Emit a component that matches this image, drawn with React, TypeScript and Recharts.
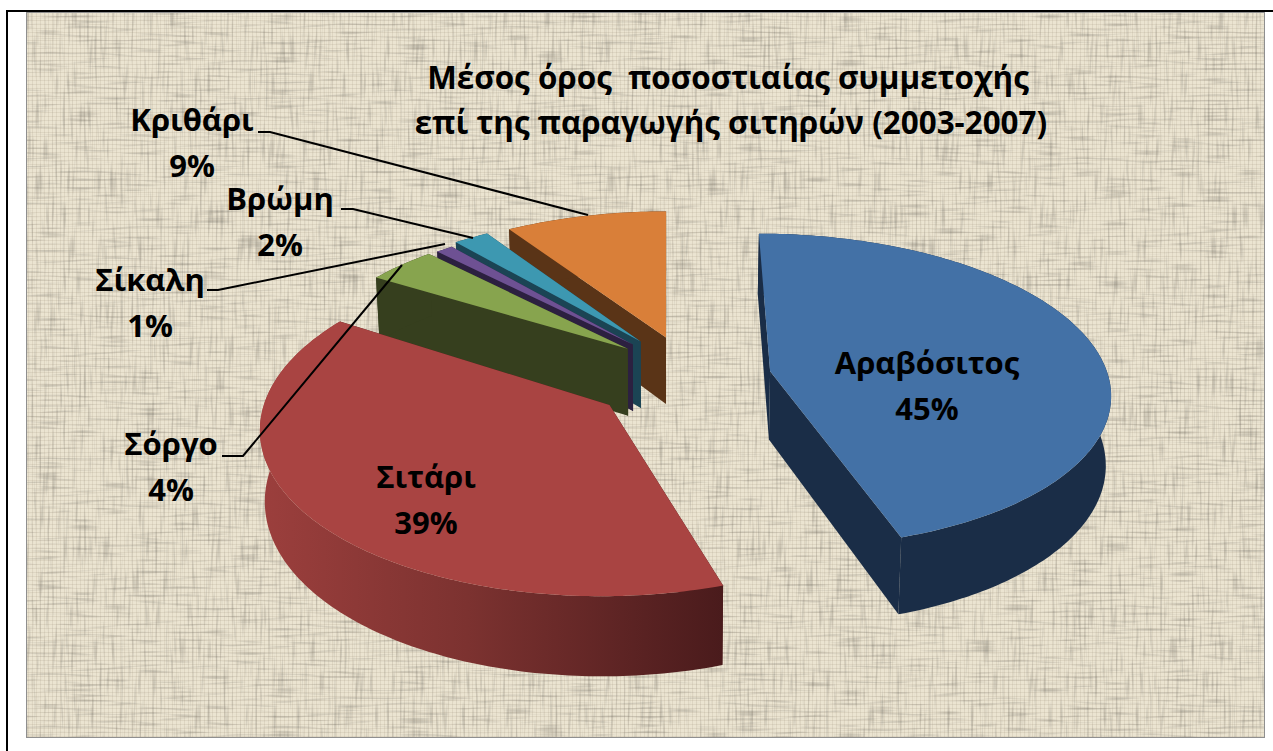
import React from "react";
import { Pie, PieChart } from "recharts";

const categories = ["Αραβόσιτος", "Σιτάρι", "Σόργο", "Σίκαλη", "Βρώμη", "Κριθάρι"];
const shares = [45, 39, 4, 1, 2, 9];
const topColors = ["#4371a6", "#a94442", "#87a44e", "#6e5193", "#3d98b1", "#d97f39"];
const wallColors = ["#1a2d47", "url(#redWall)", "#363f1e", "#2c2040", "#1b4454", "#5a3417"];

// slices are drawn back to front, so the table runs anticlockwise from 12 o'clock
const table = categories
  .map((name, i) => ({ name, value: shares[i], fill: topColors[i], wall: wallColors[i] }))
  .reverse();

const FONT = "'Open Sans', 'Noto Sans', sans-serif";
const RADIUS = 345;
const HORIZON = { x: 667, y: -900 };
const PLANE_Y = 370;
const TILT = 0.122;
const DEPTH = 68;

// apex offset on the pie plane and radius factors of every exploded slice
const explode: Record<string, { dx: number; dy: number; r: number; ry: number }> = {
  Αραβόσιτος: { dx: 103, dy: -3, r: 0.975, ry: 1.02 },
  Σιτάρι: { dx: -56, dy: -76, r: 0.975, ry: 1.045 },
  Σόργο: { dx: -40, dy: 48, r: 0.94, ry: 1 },
  Σίκαλη: { dx: -35, dy: 58, r: 0.925, ry: 1 },
  Βρώμη: { dx: -27, dy: 65, r: 0.945, ry: 1 },
  Κριθάρι: { dx: -1, dy: 74, r: 0.955, ry: 1 },
};

// label anchors and leader lines
const labelLayout: Record<string, { x: number; y: number; line?: string }> = {
  Αραβόσιτος: { x: 927, y: 374 },
  Σιτάρι: { x: 426, y: 488 },
  Σόργο: { x: 171, y: 455, line: "222,456 243,456 402,265" },
  Σίκαλη: { x: 150, y: 291, line: "207,290 218,290 445,244" },
  Βρώμη: { x: 280, y: 210, line: "341,209 353,209 473,238" },
  Κριθάρι: { x: 192, y: 131, line: "258,132 270,132 588,215" },
};

function project(x: number, y: number) {
  const w = 1 + (TILT * y) / RADIUS;
  return { X: HORIZON.x + x / w, Y: HORIZON.y + (PLANE_Y - HORIZON.y) / w, w };
}

function drop(p: { X: number; Y: number; w: number }) {
  return { X: HORIZON.x + (p.X - HORIZON.x) * 0.988, Y: p.Y + DEPTH / p.w, w: p.w };
}

function toPath(pts: { X: number; Y: number }[]) {
  return pts.map((p, i) => `${i ? "L" : "M"}${p.X.toFixed(1)} ${p.Y.toFixed(1)}`).join(" ") + " Z";
}

function Slice3D(props: any) {
  const { startAngle, endAngle, outerRadius, payload, fill } = props;
  const entry = payload ?? props;
  const geo = explode[entry.name];
  const r = outerRadius * geo.r;
  const apex = project(geo.dx, geo.dy);
  const arc: { X: number; Y: number; w: number }[] = [];
  const steps = Math.max(2, Math.ceil(Math.abs(endAngle - startAngle)));
  for (let i = 0; i <= steps; i++) {
    const a = ((startAngle + ((endAngle - startAngle) * i) / steps) * Math.PI) / 180;
    arc.push(project(geo.dx + r * Math.cos(a), geo.dy + r * geo.ry * Math.sin(a)));
  }
  const first = arc[0];
  const last = arc[arc.length - 1];
  const wall = entry.wall;
  const flat = wall === "url(#redWall)" ? "#4a1b1c" : wall;
  return (
    <g>
      <path d={toPath([apex, first, drop(first), drop(apex)])} fill={flat} />
      <path d={toPath([apex, last, drop(last), drop(apex)])} fill={flat} />
      <path d={toPath([...arc, ...arc.map(drop).reverse()])} fill={wall} />
      <path d={toPath([apex, ...arc])} fill={fill} />
    </g>
  );
}

function SliceLabel(props: any) {
  const name = props.name ?? props.payload?.name;
  const spot = labelLayout[name];
  const pct = `${Math.round(props.percent * 100)}%`;
  return (
    <g fontFamily={FONT} fontWeight={700} fontSize={31} fill="#000" textAnchor="middle">
      {spot.line && <polyline points={spot.line} fill="none" stroke="#000" strokeWidth={2} />}
      <text x={spot.x} y={spot.y} stroke="none">{name}</text>
      <text x={spot.x} y={spot.y + 46} stroke="none">{pct}</text>
    </g>
  );
}

function Backdrop() {
  return (
    <svg width={1273} height={751} style={{ position: "absolute", left: 0, top: 0 }}>
      <defs>
        <filter id="weave" x="0" y="0" width="100%" height="100%" colorInterpolationFilters="sRGB">
          <feTurbulence type="fractalNoise" baseFrequency="0.38 0.03" numOctaves={1} seed={4} result="a" />
          <feColorMatrix in="a" values="0.6 0 0 0 0.72  0.6 0 0 0 0.72  0.6 0 0 0 0.72  0 0 0 0 1" result="h" />
          <feTurbulence type="fractalNoise" baseFrequency="0.03 0.38" numOctaves={1} seed={11} result="b" />
          <feColorMatrix in="b" values="0.6 0 0 0 0.72  0.6 0 0 0 0.72  0.6 0 0 0 0.72  0 0 0 0 1" result="v" />
          <feFlood floodColor="#ebe4d1" result="base" />
          <feBlend in="base" in2="h" mode="multiply" result="m1" />
          <feBlend in="m1" in2="v" mode="multiply" />
        </filter>
        <pattern id="threads" width={4} height={4} patternUnits="userSpaceOnUse">
          <rect x={0} width={1} height={4} fill="#8d8468" opacity={0.14} />
          <rect y={0} width={4} height={1} fill="#8d8468" opacity={0.14} />
        </pattern>
        <linearGradient id="redWall" gradientUnits="userSpaceOnUse" x1={259} y1={0} x2={722} y2={0}>
          <stop offset="0%" stopColor="#9c3f3d" />
          <stop offset="45%" stopColor="#7c3230" />
          <stop offset="100%" stopColor="#4a1b1c" />
        </linearGradient>
      </defs>
      <rect x={6} y={10} width={1267} height={2} fill="#000" />
      <rect x={6} y={10} width={2} height={741} fill="#000" />
      <rect x={26} y={12} width={1239} height={726} fill="#8f8f8f" />
      <rect x={27} y={13} width={1237} height={724} fill="#e0d8c5" filter="url(#weave)" />
      <rect x={27} y={13} width={1237} height={724} fill="url(#threads)" />
    </svg>
  );
}

export default function App() {
  return (
    <div style={{ position: "absolute", left: 0, top: 0, width: 1273, height: 751 }}>
      <Backdrop />
      <div style={{ position: "absolute", left: 0, top: 0 }}>
        <PieChart width={1273} height={751} margin={{ top: 0, right: 0, bottom: 0, left: 0 }}>
          <Pie
            data={table}
            dataKey="value"
            nameKey="name"
            cx={HORIZON.x}
            cy={PLANE_Y}
            innerRadius={0}
            outerRadius={RADIUS}
            startAngle={90}
            endAngle={450}
            stroke="none"
            shape={Slice3D}
            label={SliceLabel}
            labelLine={false}
            isAnimationActive={false}
          />
          <text x={728} y={89} textAnchor="middle" fontFamily={FONT} fontWeight={700} fontSize={31.4} fill="#000" style={{ whiteSpace: "pre" }}>
            Μέσος όρος  ποσοστιαίας συμμετοχής
          </text>
          <text x={731} y={134} textAnchor="middle" fontFamily={FONT} fontWeight={700} fontSize={31.4} fill="#000">
            επί της παραγωγής σιτηρών (2003-2007)
          </text>
        </PieChart>
      </div>
    </div>
  );
}
